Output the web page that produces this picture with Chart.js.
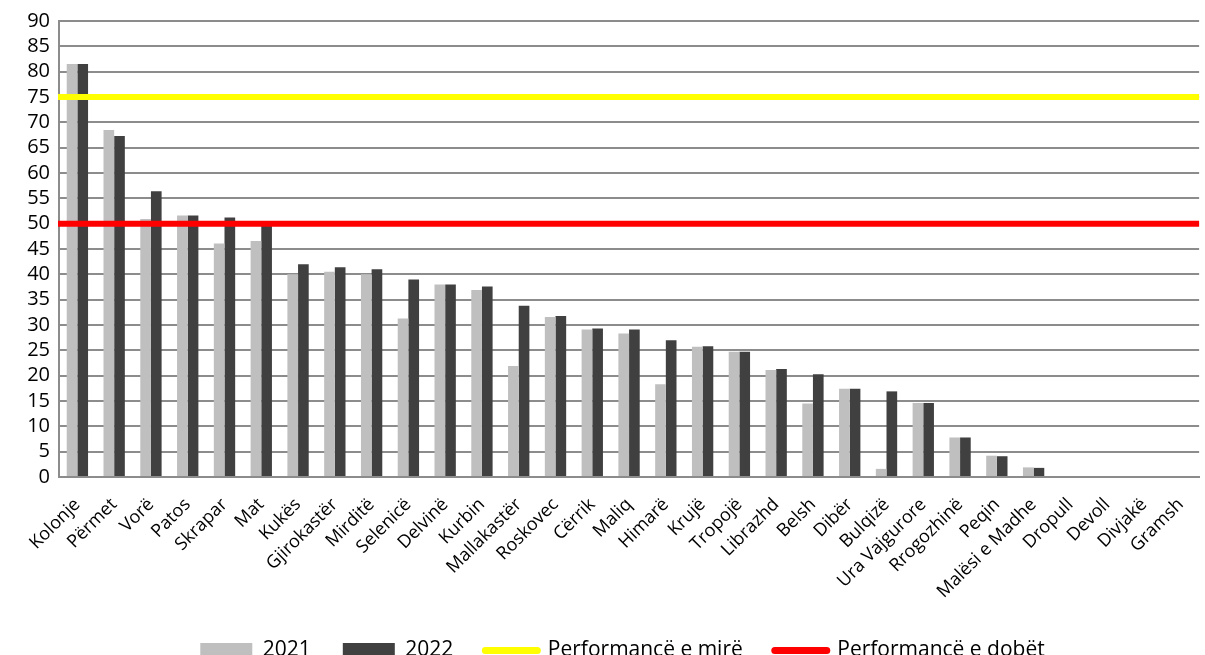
<!DOCTYPE html>
<html>
<head>
<meta charset="utf-8">
<script src="https://cdn.jsdelivr.net/npm/chart.js@4"></script>
<style>
  html, body { margin: 0; padding: 0; background: #fff; }
  #wrap { width: 1205px; height: 655px; position: relative; }
</style>
</head>
<body>
<div id="wrap"><canvas id="chart"></canvas></div>
<script>
const municipalities = ["Kolonje", "Përmet", "Vorë", "Patos", "Skrapar", "Mat", "Kukës", "Gjirokastër",
    "Mirditë", "Selenicë", "Delvinë", "Kurbin", "Mallakastër", "Roskovec", "Cërrik", "Maliq", "Himarë",
    "Krujë", "Tropojë", "Librazhd", "Belsh", "Dibër", "Bulqizë", "Ura Vajgurore", "Rrogozhinë", "Peqin",
    "Malësi e Madhe", "Dropull", "Devoll", "Divjakë", "Gramsh"];

const values2021 = [81.5, 68.5, 50.9, 51.6, 46.1, 46.6, 40.0, 40.5, 40.0, 31.3, 38.0, 36.9, 21.9, 31.6,
    29.1, 28.3, 18.3, 25.7, 24.7, 21.1, 14.5, 17.4, 1.6, 14.6, 7.8, 4.2, 1.9, 0, 0, 0, 0];
const values2022 = [81.5, 67.3, 56.4, 51.6, 51.2, 49.6, 42.0, 41.4, 41.0, 39.0, 38.0, 37.6, 33.8, 31.8,
    29.3, 29.1, 27.0, 25.8, 24.7, 21.3, 20.3, 17.4, 16.9, 14.6, 7.8, 4.1, 1.8, 0, 0, 0, 0];

const levelNames = ["Performancë e mirë", "Performancë e dobët"];
const levelValues = [75, 50];

const levelColors = ["#ffff00", "#ff0000"];
const FONT = "'Open Sans'";
const GRID = "#8c8c8c";

// horizontal reference lines across the whole plot area
const levelLinesPlugin = {
    id: "levelLines",
    afterDatasetsDraw(chart) {
        const { ctx, chartArea, scales } = chart;
        ctx.save();
        ctx.lineWidth = 6;
        ctx.lineCap = "butt";
        levelValues.forEach((v, i) => {
            const y = scales.y.getPixelForValue(v);
            ctx.strokeStyle = levelColors[i];
            ctx.beginPath();
            ctx.moveTo(chartArea.left - 1, y);
            ctx.lineTo(chartArea.right, y);
            ctx.stroke();
        });
        ctx.restore();
    }
};

// the legend in the original sits a bit right of centre
const legendShift = {
    id: "legendShift",
    afterLayout(chart) {
        if (chart.legend) chart.legend.left += 40;
    }
};

const chart = new Chart(document.getElementById("chart"), {
    type: "bar",
    data: {
        labels: municipalities,
        datasets: [
            { label: "2021", data: values2021, backgroundColor: "#bfbfbf", pointStyle: "rect" },
            { label: "2022", data: values2022, backgroundColor: "#404040", pointStyle: "rect" }
        ]
    },
    plugins: [levelLinesPlugin, legendShift],
    options: {
        animation: false,
        responsive: true,
        maintainAspectRatio: false,
        barPercentage: 1,
        categoryPercentage: 0.58,
        layout: { padding: { top: 11, right: 0, left: 0, bottom: -16 } },
        plugins: {
            tooltip: { enabled: false },
            legend: {
                position: "bottom",
                labels: {
                    usePointStyle: true,
                    pointStyleWidth: 52,
                    boxHeight: 15,
                    padding: 32,
                    color: "#000",
                    font: { family: FONT, size: 21 },
                    generateLabels(chart) {
                        const items = Chart.defaults.plugins.legend.labels.generateLabels(chart);
                        levelNames.forEach((name, i) => {
                            items.push({
                                text: name,
                                fillStyle: levelColors[i],
                                strokeStyle: levelColors[i],
                                lineWidth: 7,
                                lineCap: "round",
                                pointStyle: "line",
                                hidden: false,
                                fontColor: "#000"
                            });
                        });
                        return items;
                    }
                },
                onClick: null
            }
        },
        scales: {
            x: {
                grid: { display: false },
                border: { display: true, color: GRID, width: 2 },
                afterFit(scale) { scale.height = 131; },
                ticks: {
                    autoSkip: false,
                    maxRotation: 45,
                    minRotation: 45,
                    padding: 9,
                    color: "#000",
                    font: { family: FONT, size: 18 }
                }
            },
            y: {
                min: 0,
                max: 90,
                afterFit(scale) { scale.width = 59; },
                ticks: {
                    stepSize: 5,
                    autoSkip: false,
                    padding: 9,
                    color: "#000",
                    font: { family: FONT, size: 20 }
                },
                grid: { color: GRID, lineWidth: 2, drawTicks: false },
                border: { display: true, color: GRID, width: 2 }
            }
        }
    }
});
</script>
</body>
</html>
